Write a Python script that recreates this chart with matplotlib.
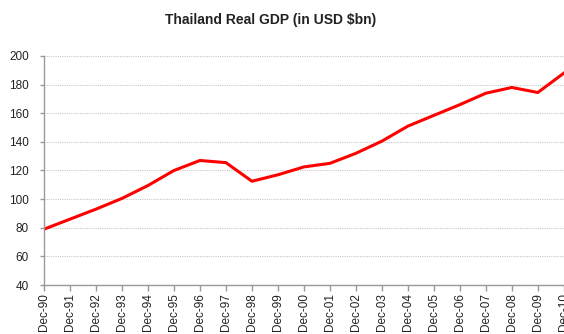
import matplotlib.pyplot as plt

plt.rcParams['font.family'] = ['Liberation Sans', 'DejaVu Sans']

labels = ['Dec-90', 'Dec-91', 'Dec-92', 'Dec-93', 'Dec-94', 'Dec-95', 'Dec-96',
          'Dec-97', 'Dec-98', 'Dec-99', 'Dec-00', 'Dec-01', 'Dec-02', 'Dec-03',
          'Dec-04', 'Dec-05', 'Dec-06', 'Dec-07', 'Dec-08', 'Dec-09', 'Dec-10']
gdp = [79, 86, 93, 100.5, 109.5, 120, 127, 125.5, 112.5, 117, 122.5, 125,
       132, 140.5, 151, 158.5, 166, 174, 178, 174.5, 188]

fig = plt.figure(figsize=(5.64, 3.34), dpi=100)
ax = fig.add_axes([44 / 564, 49 / 334, 525 / 564, 229 / 334])

x = list(range(len(gdp)))
ax.plot(x, gdp, color='#ff0000', lw=2.2, solid_joinstyle='round')

ax.set_ylim(40, 200)
ax.set_yticks(range(40, 201, 20))
ax.set_xlim(0, 20.2)
ax.set_xticks(x)
ax.set_xticklabels(labels, rotation=90)

ax.grid(axis='y', color='#c8c8c8', linestyle=(0, (1, 1)), lw=0.8)
ax.set_axisbelow(True)
for s in ['top', 'right']:
    ax.spines[s].set_visible(False)
for s in ['left', 'bottom']:
    ax.spines[s].set_color('#999999')
    ax.spines[s].set_linewidth(1)
ax.tick_params(axis='both', colors='#999999', labelcolor='#222222',
               labelsize=8.5, length=4, width=1)
ax.tick_params(axis='x', pad=2)
ax.tick_params(axis='y', length=3, pad=8)

fig.text(0.48, 0.94, 'Thailand Real GDP (in USD $bn)', ha='center', va='center',
         fontsize=10, fontweight='bold', color='#222222')

fig.savefig('out.png', dpi=100)
